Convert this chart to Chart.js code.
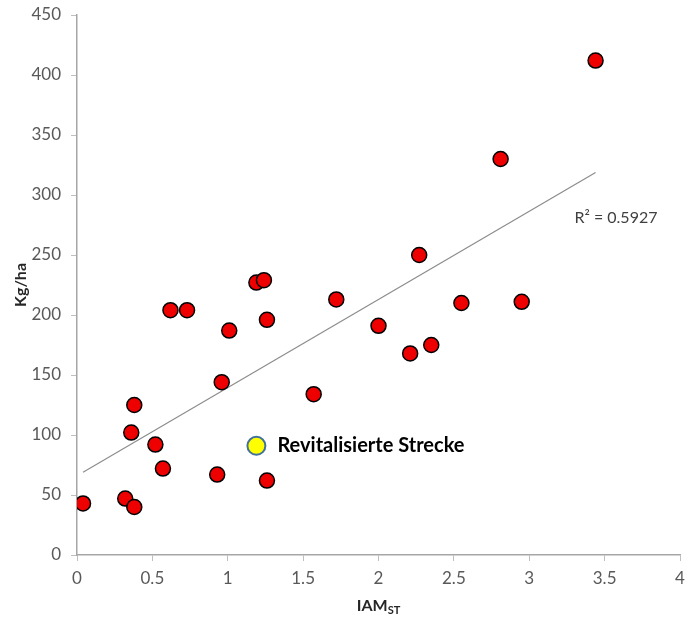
<!DOCTYPE html>
<html lang="de">
<head>
    <meta charset="UTF-8">
    <title>Kg/ha vs IAM_ST</title>
    <script src="https://cdn.jsdelivr.net/npm/chart.js"></script>
    <style>
        html, body { margin: 0; padding: 0; background: #ffffff; }
        #wrap { width: 691px; height: 623px; }
    </style>
</head>
<body>
    <div id="wrap"><canvas id="chart" width="691" height="623"></canvas></div>

    <script>
        // red stations (IAM_ST, Kg/ha)
        const iamValues = [0.04, 0.32, 0.38, 0.36, 0.38, 0.52, 0.57, 0.62, 0.73, 0.93, 0.96, 1.01,
                           1.19, 1.24, 1.26, 1.26, 1.57, 1.72, 2.00, 2.21, 2.35, 2.27, 2.55, 2.95, 2.81, 3.44];
        const kgValues  = [43, 47, 40, 102, 125, 92, 72, 204, 204, 67, 144, 187,
                           227, 229, 196, 62, 134, 213, 191, 168, 175, 250, 210, 211, 330, 412];

        // the revitalised reach
        const revIam = [1.19];
        const revKg  = [91];
        const revLabel = 'Revitalisierte Strecke';

        const r2Label = 'R² = 0.5927';
        const xTicks = [0, 0.5, 1, 1.5, 2, 2.5, 3, 3.5, 4];
        const yTicks = [0, 50, 100, 150, 200, 250, 300, 350, 400, 450];

        // least squares trend line through the red points
        function trend(xs, ys) {
            const n = xs.length;
            const mx = xs.reduce((a, b) => a + b, 0) / n;
            const my = ys.reduce((a, b) => a + b, 0) / n;
            let sxy = 0, sxx = 0;
            for (let i = 0; i < n; i++) {
                sxy += (xs[i] - mx) * (ys[i] - my);
                sxx += (xs[i] - mx) * (xs[i] - mx);
            }
            const b = sxy / sxx;
            const a = my - b * mx;
            const x0 = Math.min(...xs), x1 = Math.max(...xs);
            return [{ x: x0, y: a + b * x0 }, { x: x1, y: a + b * x1 }];
        }

        const fontFam = 'Lato, "Open Sans", sans-serif';
        const tickFont = { family: fontFam, size: 17 };
        const axisGray = '#a6a6a6';

        const labelsPlugin = {
            id: 'labels',
            afterDatasetsDraw(chart) {
                const ctx = chart.ctx;
                const xs = chart.scales.x, ys = chart.scales.y;
                ctx.save();
                // annotation next to the yellow point
                ctx.fillStyle = '#000000';
                ctx.font = 'bold 20px ' + fontFam;
                ctx.textBaseline = 'middle';
                ctx.textAlign = 'left';
                ctx.fillText(revLabel, xs.getPixelForValue(revIam[0]) + 21, ys.getPixelForValue(revKg[0]));
                // R² label
                ctx.fillStyle = '#404040';
                ctx.font = '16px ' + fontFam;
                ctx.fillText(r2Label, xs.getPixelForValue(3.3), ys.getPixelForValue(281));
                // x axis title with subscript
                ctx.fillStyle = '#262626';
                ctx.textBaseline = 'alphabetic';
                ctx.font = 'bold 16px ' + fontFam;
                const main = 'IAM';
                const wMain = ctx.measureText(main).width;
                ctx.font = 'bold 11px ' + fontFam;
                const wSub = ctx.measureText('ST').width;
                const cx = (chart.chartArea.left + chart.chartArea.right) / 2;
                const sx = cx - (wMain + wSub) / 2;
                ctx.font = 'bold 16px ' + fontFam;
                ctx.fillText(main, sx, 611);
                ctx.font = 'bold 11px ' + fontFam;
                ctx.fillText('ST', sx + wMain, 614);
                ctx.restore();
            }
        };

        new Chart(document.getElementById('chart').getContext('2d'), {
            type: 'scatter',
            data: {
                datasets: [
                    {
                        label: 'Trend',
                        type: 'line',
                        data: trend(iamValues, kgValues),
                        borderColor: '#8c8c8c',
                        borderWidth: 1.2,
                        pointRadius: 0,
                        fill: false,
                        order: 3
                    },
                    {
                        label: 'Strecken',
                        data: iamValues.map((x, i) => ({ x: x, y: kgValues[i] })),
                        backgroundColor: '#ee0000',
                        borderColor: '#000000',
                        borderWidth: 1.5,
                        pointRadius: 7.5,
                        order: 2
                    },
                    {
                        label: revLabel,
                        data: revIam.map((x, i) => ({ x: x, y: revKg[i] })),
                        backgroundColor: '#ffff00',
                        borderColor: '#41719c',
                        borderWidth: 2,
                        pointRadius: 9,
                        order: 1
                    }
                ]
            },
            options: {
                responsive: false,
                animation: false,
                layout: { padding: { top: 15, right: 0, left: 11, bottom: 0 } },
                plugins: {
                    legend: { display: false },
                    tooltip: { enabled: false },
                    title: { display: false }
                },
                scales: {
                    x: {
                        type: 'linear',
                        min: 0,
                        max: 4,
                        afterBuildTicks: s => { s.ticks = xTicks.map(v => ({ value: v })); },
                        afterFit: s => { s.height = 68; s.paddingLeft = 0; s.paddingRight = 0; },
                        grid: { drawOnChartArea: false, drawTicks: true, tickLength: 6, color: '#bfbfbf' },
                        border: { color: axisGray, width: 1.5 },
                        ticks: { color: '#595959', font: tickFont, padding: 7, maxRotation: 0,
                                 callback: v => String(v) }
                    },
                    y: {
                        type: 'linear',
                        min: 0,
                        max: 450,
                        afterBuildTicks: s => { s.ticks = yTicks.map(v => ({ value: v })); },
                        afterFit: s => { s.width = 66; s.paddingTop = 0; s.paddingBottom = 0; },
                        grid: { drawOnChartArea: false, drawTicks: true, tickLength: 6, color: '#bfbfbf' },
                        border: { color: axisGray, width: 1.5 },
                        ticks: { color: '#595959', font: tickFont, padding: 10,
                                 callback: v => String(v) },
                        title: {
                            display: true,
                            text: 'Kg/ha',
                            color: '#262626',
                            font: { family: fontFam, size: 16, weight: 'bold' },
                            padding: { top: 0, bottom: 0 }
                        }
                    }
                }
            },
            plugins: [labelsPlugin]
        });
    </script>
</body>
</html>
